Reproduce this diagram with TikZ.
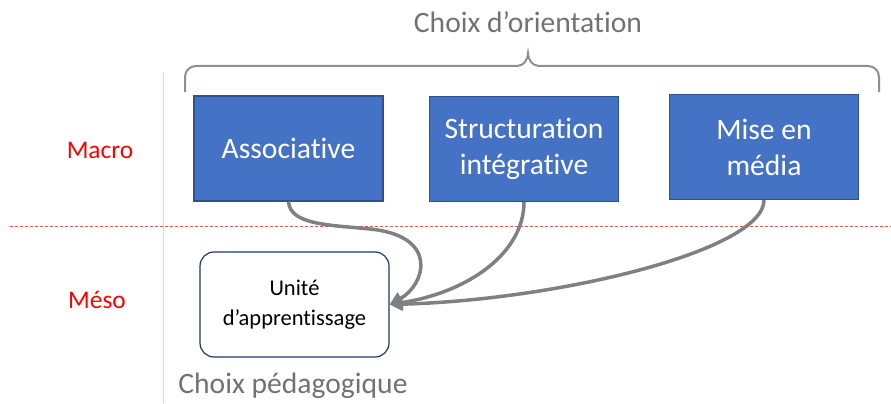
\documentclass[tikz,border=0pt]{standalone}
\usepackage{fontspec}
\setmainfont{Carlito}[Ligatures=NoCommon]
\usetikzlibrary{arrows.meta}
\definecolor{boxblue}{HTML}{4472C4}
\definecolor{boxedge}{HTML}{2F528F}
\definecolor{unitedge}{HTML}{1F3864}
\definecolor{titlegray}{HTML}{767171}
\definecolor{linkgray}{HTML}{808080}
\begin{document}
\begin{tikzpicture}[x=1pt, y=1pt,
        orient/.style={draw=boxedge, line width=1.2pt, fill=boxblue, text=white,
            minimum width=189pt, minimum height=105pt, align=center,
            font=\fontsize{29.6}{36}\selectfont},
        unit/.style={draw=unitedge, line width=1.2pt, fill=white, rounded corners=14pt,
            minimum width=189pt, minimum height=105pt, align=center,
            font=\fontsize{22.5}{30}\selectfont},
        level/.style={text=red, font=\fontsize{25.4}{30}\selectfont},
        choice/.style={text=titlegray, font=\fontsize{29.6}{36}\selectfont},
        link/.style={draw=linkgray, line width=3.5pt, -{Triangle[length=13pt, width=13pt]}}]
        \useasboundingbox (0,0) rectangle (891,-404);
        % Separators
        \draw[densely dotted, gray!50, line width=1pt] (163,-72) -- (163,-404);
        \draw[dashed, red!70, line width=0.8pt, dash pattern=on 3pt off 2pt] (10,-226) -- (891,-226);
        % Levels
        \node[level] (macro) at (100,-150) {Macro};
        \node[level] (meso) at (97,-300) {Méso};
        % Orientation choices
        \node[orient] (assoc) at (288.5,-148.5) {Associative};
        \node[orient] (struct) at (524,-149) {Structuration\\intégrative};
        \node[orient] (media) at (764,-147) {Mise en\\média};
        % Brace
        \draw[titlegray!80, line width=2pt] (185,-92) -- (185,-77) to[out=90, in=180] (196,-66)
            -- (517,-66) to[out=0, in=-90] (528,-53) to[out=-90, in=180] (539,-66)
            -- (868,-66) to[out=0, in=90] (879,-77) -- (879,-92);
        \node[choice] (orientation) at (528,-22) {Choix d’orientation};
        % Pedagogical unit
        \node[unit] (unite) at (294.5,-304.5) {Unité\\d’apprentissage};
        \node[choice] (pedago) at (293,-386) {Choix pédagogique};
        % Links
        \draw[link] (assoc.south) .. controls (290,-225) and (330,-225) .. (370,-229)
            .. controls (440,-236) and (425,-285) .. (unite.east);
        \draw[link] (struct.south) .. controls (524,-252) and (470,-292) .. (unite.east);
        \draw[link] (media.south) .. controls (764,-250) and (560,-300) .. (unite.east);
\end{tikzpicture}
\end{document}
